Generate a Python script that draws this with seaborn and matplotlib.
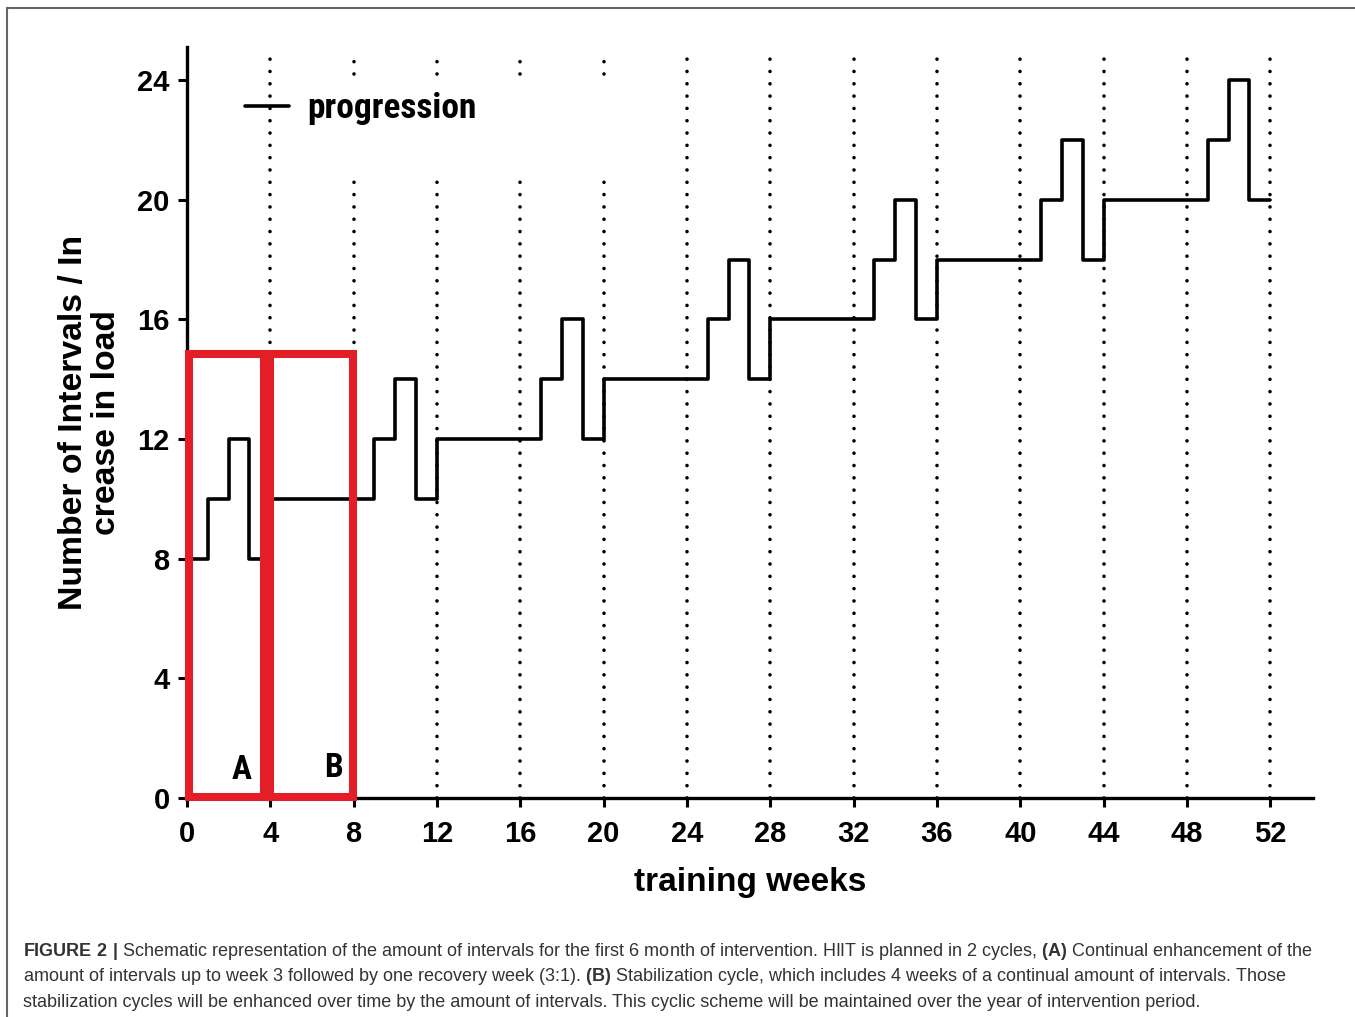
import matplotlib
matplotlib.use("Agg")
import matplotlib.pyplot as plt
from matplotlib.lines import Line2D
from matplotlib.patches import Rectangle
import seaborn as sns
import pandas as pd

# step points (week where the level starts, number of intervals)
weeks = [0, 1, 2, 3, 4, 9, 10, 11, 12, 17, 18, 19, 20, 25, 26, 27, 28,
         33, 34, 35, 36, 41, 42, 43, 44, 49, 50, 51, 52]
intervals = [8, 10, 12, 8, 10, 12, 14, 10, 12, 14, 16, 12, 14, 16, 18, 14, 16,
             18, 20, 16, 18, 20, 22, 18, 20, 22, 24, 20, 20]

x_ticks = list(range(0, 53, 4))
y_ticks = [0, 4, 8, 12, 16, 20, 24]

# cycle boxes A and B
box_labels = ["A", "B"]
box_left = [0.1, 4.0]
box_right = [3.7, 7.97]
box_top = 14.85
label_pos = [(2.6, 0.95), (7.05, 1.0)]

caption = [
    r"$\mathbf{FIGURE\ 2\ |}$ Schematic representation of the amount of intervals for the first 6 month of intervention. HIIT is planned in 2 cycles, $\mathbf{(A)}$ Continual enhancement of the",
    r"amount of intervals up to week 3 followed by one recovery week (3:1). $\mathbf{(B)}$ Stabilization cycle, which includes 4 weeks of a continual amount of intervals. Those",
    r"stabilization cycles will be enhanced over time by the amount of intervals. This cyclic scheme will be maintained over the year of intervention period.",
]

sns.set_style("ticks")
plt.rcParams["font.family"] = ["Liberation Sans", "DejaVu Sans"]
plt.rcParams["mathtext.fontset"] = "custom"
plt.rcParams["mathtext.rm"] = "Liberation Sans"
plt.rcParams["mathtext.bf"] = "Liberation Sans:bold"
plt.rcParams["text.color"] = "black"
plt.rcParams["axes.labelcolor"] = "black"
plt.rcParams["xtick.color"] = "black"
plt.rcParams["ytick.color"] = "black"

narrow = ["Liberation Sans Narrow", "Roboto Condensed", "Roboto", "DejaVu Sans"]
red = "#e41e26"

fig = plt.figure(figsize=(13.55, 10.17), dpi=100)
ax = fig.add_axes([0.138, 0.2153, 0.831, 0.7384])

df = pd.DataFrame({"week": weeks, "n": intervals})
sns.lineplot(data=df, x="week", y="n", drawstyle="steps-post", color="black",
             lw=2.6, ax=ax, zorder=3, label="progression")

# dotted week markers
gap_weeks = [8, 12, 16, 20]
for w in x_ticks[1:]:
    segs = [(0, 21.0), (24.2, 25.0)] if w in gap_weeks else [(0, 25.0)]
    for y0, y1 in segs:
        ax.plot([w, w], [y0, y1], color="black", lw=2.6,
                linestyle=(0, (0.01, 3.4)), dash_capstyle="round", zorder=2)

for lab, l, r, (tx, ty) in zip(box_labels, box_left, box_right, label_pos):
    ax.add_patch(Rectangle((l, 0.05), r - l, box_top - 0.05, fill=False,
                           edgecolor=red, lw=5.8, zorder=4, clip_on=False))
    ax.text(tx, ty, lab, fontsize=24, fontweight="bold", family=narrow,
            ha="center", va="center", zorder=5)

ax.set_xlim(0, 54.05)
ax.set_ylim(0, 25.1)
ax.set_xticks(x_ticks)
ax.set_yticks(y_ticks)
ax.tick_params(axis="both", direction="out", length=6.5, width=2.2,
               labelsize=21, color="black", labelcolor="black")
ax.tick_params(axis="x", pad=9)
ax.tick_params(axis="y", pad=6)
for t in ax.get_xticklabels() + ax.get_yticklabels():
    t.set_fontweight("bold")
sns.despine(ax=ax)
for s in ["left", "bottom"]:
    ax.spines[s].set_linewidth(2.4)
    ax.spines[s].set_color("black")

ax.set_xlabel("training weeks", fontsize=24, fontweight="bold")
ax.xaxis.set_label_coords(0.5, -0.092)
ax.xaxis.label.set_va("top")
ax.set_ylabel("Number of Intervals / In\ncrease in load", fontsize=24.3,
              fontweight="bold", linespacing=1.05)
ax.yaxis.set_label_coords(-0.058, 0.5)

leg = ax.legend(loc="center left", bbox_to_anchor=(0.1808, 0.893),
                bbox_transform=fig.transFigure, frameon=False, borderpad=0,
                borderaxespad=0, handlelength=1.25, handletextpad=0.5,
                prop={"family": narrow, "weight": "bold", "size": 25.5})

# figure frame (top and left)
fig.add_artist(Line2D([0.0052, 0.0052], [0, 0.992], color="#666666", lw=1.5,
                      transform=fig.transFigure))
fig.add_artist(Line2D([0.0052, 1.0], [0.992, 0.992], color="#666666", lw=1.5,
                      transform=fig.transFigure))

for line, yb in zip(caption, [0.060, 0.0354, 0.0098]):
    fig.text(0.017, yb, line, fontsize=12.95, color="#333333", va="baseline",
             ha="left")

fig.savefig("out.png", dpi=100)
